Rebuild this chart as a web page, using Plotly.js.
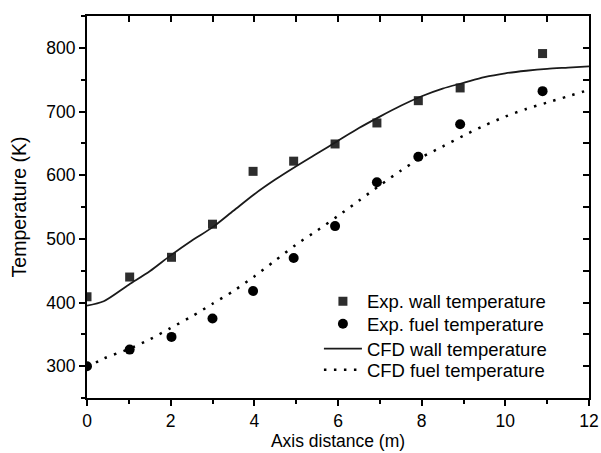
<!DOCTYPE html>
<html>
<head>
<meta charset="utf-8">
<script src="https://cdn.plot.ly/plotly-3.0.1.min.js"></script>
<style>html,body{margin:0;padding:0;background:#fff;}#chart{width:601px;height:453px;}</style>
</head>
<body>
<div id="chart"></div>
<script>
// Experimental data
const expX = [0, 1.02, 2.02, 3.0, 3.97, 4.94, 5.93, 6.93, 7.92, 8.92, 10.89];
const expWall = [409, 440, 471, 523, 606, 622, 649, 682, 717, 737, 791];
const expFuel = [300, 326, 346, 375, 418, 470, 520, 589, 629, 680, 732];

// CFD curves
const cfdX = [0, 0.4, 1, 1.5, 2, 2.5, 3, 3.5, 4, 4.5, 5, 5.5, 6, 6.5, 7, 7.5, 8, 8.5, 9, 9.5, 10, 10.5, 11, 11.5, 12];
const cfdWall = [395, 402, 428, 449, 474, 497, 518, 544, 570, 593, 614, 634, 654, 674, 692, 709, 724, 736, 745, 754, 760, 764, 767, 769, 771];
const cfdFuel = [298, 312, 327, 342, 360, 378, 398, 418, 441, 466, 491, 513, 536, 560, 584, 607, 628, 645, 662, 678, 692, 704, 714, 724, 734];

const names = ['Exp. wall temperature', 'Exp. fuel temperature', 'CFD wall temperature', 'CFD fuel temperature'];

const traces = [
  {x: expX, y: expWall, type: 'scatter', mode: 'markers', name: names[0], legend: 'legend',
   marker: {symbol: 'square', size: 9, color: '#2d2d2d'}},
  {x: expX, y: expFuel, type: 'scatter', mode: 'markers', name: names[1], legend: 'legend2',
   marker: {symbol: 'circle', size: 10, color: '#000'}},
  {x: cfdX, y: cfdWall, type: 'scatter', mode: 'lines', name: names[2], legend: 'legend3',
   line: {color: '#1a1a1a', width: 1.8, shape: 'spline', smoothing: 0.8}},
  {x: cfdX, y: cfdFuel, type: 'scatter', mode: 'lines', name: names[3], legend: 'legend4',
   line: {color: '#000', width: 2.5, dash: '2.5px,7.5px', shape: 'spline', smoothing: 0.8}},
  {x: [], y: [], xaxis: 'x2', yaxis: 'y2', type: 'scatter', mode: 'markers', showlegend: false, hoverinfo: 'skip'}
];

const font = {family: 'Liberation Sans, Arial, sans-serif', color: '#000'};

function leg(y) {
  return {
    x: 0.462, y: y, xanchor: 'left', yanchor: 'middle',
    bgcolor: 'rgba(0,0,0,0)', borderwidth: 0, itemwidth: 38,
    font: Object.assign({size: 18.5}, font)
  };
}

const layout = {
  width: 601, height: 453,
  margin: {l: 87, r: 12, t: 16, b: 55},
  paper_bgcolor: '#fff', plot_bgcolor: '#fff',
  font: Object.assign({size: 16}, font),
  showlegend: true,
  legend: leg(0.252),
  legend2: leg(0.193),
  legend3: leg(0.128),
  legend4: leg(0.073),
  xaxis: {
    range: [0, 12], dtick: 2, tick0: 0,
    showgrid: false, zeroline: false,
    showline: true, linecolor: '#000', linewidth: 2,
    ticks: 'outside', ticklen: 6, tickwidth: 2, tickcolor: '#000',
    minor: {dtick: 1, ticks: 'outside', ticklen: 4, tickwidth: 2, tickcolor: '#000', showgrid: false},
    tickfont: Object.assign({size: 17.5}, font),
    title: {text: 'Axis distance (m)', font: Object.assign({size: 17.5}, font), standoff: 4}
  },
  yaxis: {
    range: [250, 850], dtick: 100, tick0: 300,
    showgrid: false, zeroline: false,
    showline: true, linecolor: '#000', linewidth: 2,
    ticks: 'outside', ticklen: 6, tickwidth: 2, tickcolor: '#000',
    minor: {dtick: 50, ticks: 'outside', ticklen: 4, tickwidth: 2, tickcolor: '#000', showgrid: false},
    tickfont: Object.assign({size: 17.5}, font),
    title: {text: 'Temperature (K)', font: Object.assign({size: 19.5}, font), standoff: 14}
  },
  xaxis2: {
    overlaying: 'x', side: 'top', range: [0, 12], dtick: 1, tick0: 0,
    showgrid: false, zeroline: false, showticklabels: false,
    showline: true, linecolor: '#000', linewidth: 2,
    ticks: 'inside', ticklen: 6, tickwidth: 2, tickcolor: '#000'
  },
  yaxis2: {
    overlaying: 'y', side: 'right', range: [250, 850], dtick: 50, tick0: 300,
    showgrid: false, zeroline: false, showticklabels: false,
    showline: true, linecolor: '#000', linewidth: 2,
    ticks: 'inside', ticklen: 6, tickwidth: 2, tickcolor: '#000'
  }
};

Plotly.newPlot('chart', traces, layout, {displayModeBar: false, staticPlot: true});
</script>
</body>
</html>
